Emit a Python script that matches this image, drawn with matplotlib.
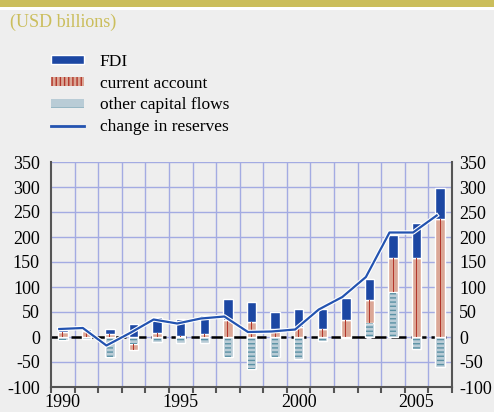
"""Stacked capital-flow components vs change in reserves (USD billions), 1990-2006."""
import numpy as np
import matplotlib
matplotlib.use("Agg")
import matplotlib.pyplot as plt
from matplotlib.patches import Rectangle, Patch
from matplotlib.lines import Line2D
import matplotlib.patheffects as pe

plt.rcParams["font.family"] = ["Liberation Serif", "DejaVu Serif"]
plt.rcParams["axes.unicode_minus"] = False
plt.rcParams["hatch.linewidth"] = 1.0

# ── data ────────────────────────────────────────────────────────────────
years = list(range(1990, 2007))
fdi = [3, 4, 11, 27, 32, 34, 38, 41, 40, 33, 36, 40, 43, 42, 47, 70, 61]
current_account = [11, 13, 6, -12, 8, 2, 7, 35, 31, 17, 20, 17, 35, 46, 68, 159, 237]
other_flows = [-5, -3, -40, -14, -9, -12, -12, -40, -63, -40, -43, -7, -2, 29, 90, -23, -59]
reserves = [16, 18, -17, 8, 35, 27, 37, 41, 10, 11, 15, 55, 80, 120, 209, 209, 243]
year_labels = ["1990", "1995", "2000", "2005"]

# ── style ───────────────────────────────────────────────────────────────
BG = "#eeeeee"
KHAKI = "#cbbe5c"
C_FDI = "#1c47a3"
C_CA = "#dba796"
C_CA_LINE = "#b3362b"
C_OTH = "#b9ccd6"
C_OTH_LINE = "#5b92a5"
C_RES = "#2353b0"
C_GRID = "#a3abe2"
C_SPINE = "#555555"

fdi = np.array(fdi, dtype=float)
ca = np.array(current_account, dtype=float)
oth = np.array(other_flows, dtype=float)
res = np.array(reserves, dtype=float)
x = np.arange(len(years))

pos_base = np.clip(oth, 0, None)
neg_base = np.clip(oth, None, 0)
ca_bottom = np.where(ca >= 0, pos_base, neg_base)
fdi_bottom = pos_base + np.clip(ca, 0, None)

fig = plt.figure(figsize=(4.94, 4.12), dpi=100, facecolor=BG)
fig.patches.append(Rectangle((0, 1 - 7 / 412), 1, 7 / 412, transform=fig.transFigure,
                             facecolor=KHAKI, edgecolor="none"))
fig.patches.append(Rectangle((0, 1 - 10 / 412), 1, 3 / 412, transform=fig.transFigure,
                             facecolor="white", edgecolor="none"))
fig.text(10 / 494, 1 - 22 / 412, "(USD billions)", color=KHAKI, fontsize=13,
         va="center", ha="left")

ax = fig.add_axes([51 / 494, 25 / 412, 401 / 494, 225 / 412])
ax.set_facecolor(BG)

W = 0.4
# other capital flows
ax.bar(x, oth, width=W, color=C_OTH, edgecolor="white", linewidth=1, zorder=2)
ax.bar(x, oth, width=W * 0.72, facecolor="none", edgecolor=C_OTH_LINE,
       hatch="----", linewidth=0, zorder=2.1)
# current account
ax.bar(x, ca, width=W, bottom=ca_bottom, color=C_CA, edgecolor="white",
       linewidth=1, zorder=2)
ax.bar(x, ca, width=0.04, bottom=ca_bottom, color=C_CA_LINE, linewidth=0,
       zorder=2.1)
# FDI
ax.bar(x, fdi, width=W, bottom=fdi_bottom, color=C_FDI, edgecolor="white",
       linewidth=1, zorder=2)
# change in reserves
ax.plot(x - 0.15, res, color=C_RES, linewidth=1.6, zorder=4,
        path_effects=[pe.Stroke(linewidth=3.2, foreground="white"), pe.Normal()])

ax.axhline(0, color="black", linewidth=1.8, dashes=(6, 2), zorder=1)

ax.set_xlim(-0.5, len(years) - 0.5)
ax.set_ylim(-100, 350)
yt = np.arange(-100, 351, 50)
ax.set_yticks(yt)
ax.set_xticks([years.index(int(y)) for y in year_labels])
ax.set_xticklabels(year_labels)
ax.set_xticks(np.arange(-0.5, len(years)), minor=True)

for v in np.arange(-50, 351, 50):
    ax.axhline(v, color=C_GRID, linewidth=1, zorder=0)
for b in np.arange(0.5, len(years) - 0.5):
    ax.axvline(b, color=C_GRID, linewidth=1, zorder=0)

ax.tick_params(axis="x", which="major", length=0, labelsize=13, pad=5)
ax.tick_params(axis="x", which="minor", length=4, width=1.5, color=C_SPINE,
               direction="out")
ax.tick_params(axis="y", which="both", length=0, labelsize=13, pad=8)

ax_r = ax.secondary_yaxis("right")
ax_r.set_yticks(yt)
ax_r.tick_params(axis="y", length=0, labelsize=13, pad=5)
ax_r.spines["right"].set_visible(False)

for s in ("left", "right", "bottom"):
    ax.spines[s].set_color(C_SPINE)
    ax.spines[s].set_linewidth(1.5)
ax.spines["top"].set_visible(False)

handles = [
    Patch(facecolor=C_FDI, edgecolor="white", linewidth=1),
    Patch(facecolor=C_CA, edgecolor=C_CA_LINE, hatch="||||", linewidth=0),
    Patch(facecolor=C_OTH, edgecolor=C_OTH_LINE, hatch="-", linewidth=0),
    Line2D([0], [0], color=C_RES, linewidth=2),
]
labels = ["FDI", "current account", "other capital flows", "change in reserves"]
fig.legend(handles, labels, loc="upper left", bbox_to_anchor=(51 / 494, 1 - 54 / 412),
           frameon=False, fontsize=12.5, borderpad=0, borderaxespad=0,
           handlelength=1.9, handleheight=0.45, handletextpad=0.9,
           labelspacing=0.33)

fig.savefig("out.png", dpi=100, facecolor=BG)
